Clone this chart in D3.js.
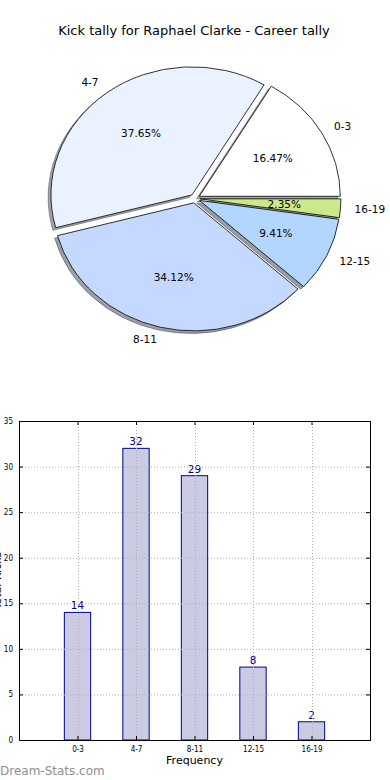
<!DOCTYPE html>
<html>
<head>
<meta charset="utf-8">
<script src="https://cdn.jsdelivr.net/npm/d3@7"></script>
<style>
  body { margin: 0; background: #fff; }
  svg { display: block; font-family: "DejaVu Sans", sans-serif; }
</style>
</head>
<body>
<svg id="chart" width="390" height="780"></svg>
<script>
// data
const categories = ["0-3", "4-7", "8-11", "12-15", "16-19"];
const counts = [14, 32, 29, 8, 2];
const pieColors = ["#ffffff", "#ebf2ff", "#c5d8ff", "#b3d6ff", "#cbe98a"];
const explode = [0.035, 0.035, 0.035, 0.035, 0.035];
const yTicks = [0, 5, 10, 15, 20, 25, 30, 35];

const svg = d3.select("#chart");

// ---- title ----
svg.append("text")
  .attr("x", 194)
  .attr("y", 35)
  .attr("text-anchor", "middle")
  .style("font-size", "13px")
  .text("Kick tally for Raphael Clarke - Career tally");

// ---- pie (matplotlib style: ccw from 3 o'clock, elliptical, shadows) ----
const cx = 195, cy = 198.5, rx = 141, ry = 128;
const total = d3.sum(counts);

// d3 angles are clockwise from 12 o'clock, so start at pi/2 and run backwards
const pie = d3.pie().sort(null)
  .startAngle(Math.PI / 2)
  .endAngle(Math.PI / 2 - 2 * Math.PI);
const arcs = pie(counts);
const arc = d3.arc().innerRadius(0).outerRadius(1);

arcs.forEach((d, i) => {
  const mid = (d.startAngle + d.endAngle) / 2;
  d.ux = Math.sin(mid);
  d.uy = -Math.cos(mid);
  d.ox = cx + explode[i] * rx * d.ux;
  d.oy = cy + explode[i] * ry * d.uy;
});

// shadows below every wedge
arcs.forEach((d, i) => {
  const c = d3.rgb(pieColors[i]);
  const shade = d3.rgb(c.r * 0.3, c.g * 0.3, c.b * 0.3);
  svg.append("path")
    .attr("d", arc(d))
    .attr("transform", `translate(${d.ox - 0.02 * rx},${d.oy + 0.02 * ry}) scale(${rx},${ry})`)
    .attr("fill", shade)
    .attr("fill-opacity", 0.5)
    .attr("stroke", shade)
    .attr("stroke-opacity", 0.5)
    .attr("stroke-width", 1)
    .attr("vector-effect", "non-scaling-stroke");
});

arcs.forEach((d, i) => {
  svg.append("path")
    .attr("d", arc(d))
    .attr("transform", `translate(${d.ox},${d.oy}) scale(${rx},${ry})`)
    .attr("fill", pieColors[i])
    .attr("stroke", "#000")
    .attr("stroke-width", 0.8)
    .attr("vector-effect", "non-scaling-stroke");
});

// labels at 1.1 r, percentages at 0.6 r
arcs.forEach((d, i) => {
  svg.append("text")
    .attr("x", d.ox + 1.1 * rx * d.ux)
    .attr("y", d.oy + 1.1 * ry * d.uy)
    .attr("dy", "0.35em")
    .attr("text-anchor", d.ux > 0 ? "start" : "end")
    .style("font-size", "10.5px")
    .text(categories[i]);

  svg.append("text")
    .attr("x", d.ox + 0.6 * rx * d.ux)
    .attr("y", d.oy + 0.6 * ry * d.uy)
    .attr("dy", "0.35em")
    .attr("text-anchor", "middle")
    .style("font-size", "10.5px")
    .text((counts[i] / total * 100).toFixed(2) + "%");
});

// ---- bar chart ----
const plot = { left: 19, right: 370, top: 421, bottom: 740 };

const xScale = d3.scaleLinear().domain([-1, 5]).range([plot.left, plot.right]);
const yScale = d3.scaleLinear().domain([0, 35]).range([plot.bottom, plot.top]);
const barWidth = 0.45;

const bars = svg.append("g");
counts.forEach((v, i) => {
  bars.append("rect")
    .attr("x", xScale(i - barWidth / 2))
    .attr("y", yScale(v))
    .attr("width", xScale(barWidth) - xScale(0))
    .attr("height", yScale(0) - yScale(v))
    .attr("fill", "#cbcce4")
    .attr("stroke", "#00008b")
    .attr("stroke-width", 1);

  svg.append("text")
    .attr("x", xScale(i))
    .attr("y", yScale(v) - 3)
    .attr("text-anchor", "middle")
    .attr("fill", "#00008b")
    .style("font-size", "10.5px")
    .text(v);
});

// dotted grid sits above the bars (classic matplotlib)
const grid = svg.append("g")
  .attr("stroke", "#b0b0b0")
  .attr("stroke-width", 1)
  .attr("stroke-dasharray", "1,2");
yTicks.forEach(t => {
  grid.append("line")
    .attr("x1", plot.left).attr("x2", plot.right)
    .attr("y1", yScale(t) + 0.5).attr("y2", yScale(t) + 0.5);
});
categories.forEach((c, i) => {
  grid.append("line")
    .attr("x1", Math.round(xScale(i)) + 0.5).attr("x2", Math.round(xScale(i)) + 0.5)
    .attr("y1", plot.top).attr("y2", plot.bottom);
});

// axes with inward ticks on all four sides
const yLeft = d3.axisLeft(yScale).tickValues(yTicks).tickSize(-4).tickPadding(6);
const yRight = d3.axisRight(yScale).tickValues(yTicks).tickSize(-4).tickFormat("");
const xBottom = d3.axisBottom(xScale).tickValues(d3.range(categories.length))
  .tickFormat(i => categories[i]).tickSize(-4).tickPadding(6);
const xTop = d3.axisTop(xScale).tickValues(d3.range(categories.length))
  .tickSize(-4).tickFormat("");

svg.append("g").attr("transform", `translate(${plot.left},0)`).call(yLeft);
svg.append("g").attr("transform", `translate(${plot.right},0)`).call(yRight);
svg.append("g").attr("transform", `translate(0,${plot.bottom})`).call(xBottom);
svg.append("g").attr("transform", `translate(0,${plot.top})`).call(xTop);

svg.selectAll(".domain").remove();
svg.selectAll(".tick text")
  .style("font-family", "'DejaVu Sans Condensed', 'DejaVu Sans', sans-serif")
  .style("font-size", "8px")
  .attr("fill", "#000");
svg.selectAll(".tick line").attr("stroke", "#000");

svg.append("rect")
  .attr("x", plot.left + 0.5)
  .attr("y", plot.top + 0.5)
  .attr("width", plot.right - plot.left)
  .attr("height", plot.bottom - plot.top)
  .attr("fill", "none")
  .attr("stroke", "#000")
  .attr("stroke-width", 1);

// axis labels
svg.append("text")
  .attr("x", (plot.left + plot.right) / 2)
  .attr("y", 764)
  .attr("text-anchor", "middle")
  .style("font-size", "11px")
  .text("Frequency");

// the y label sits mostly off the left edge, as in the reference
svg.append("text")
  .attr("transform", `translate(1,${(plot.top + plot.bottom) / 2}) rotate(-90)`)
  .attr("text-anchor", "middle")
  .style("font-size", "11px")
  .text("Total Kicks");

// watermark
svg.append("text")
  .attr("x", 0)
  .attr("y", 775)
  .attr("fill", "#8f8f8f")
  .style("font-size", "12px")
  .text("Dream-Stats.com");
</script>
</body>
</html>
